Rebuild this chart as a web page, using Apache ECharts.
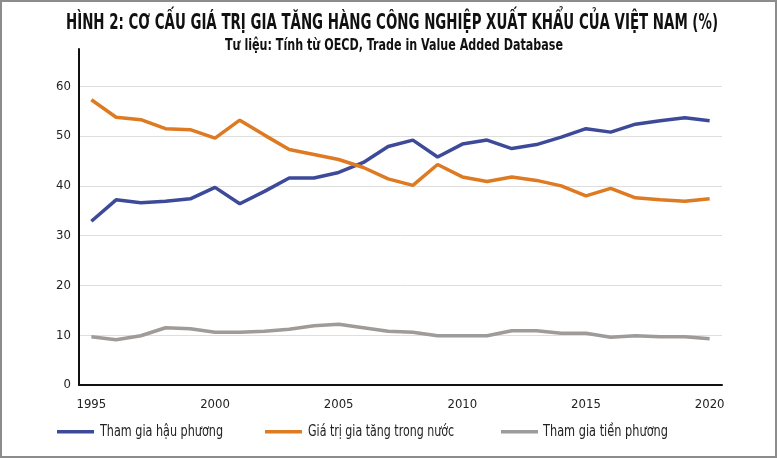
<!DOCTYPE html>
<html>
<head>
<meta charset="utf-8">
<script src="https://cdn.jsdelivr.net/npm/echarts@6/dist/echarts.min.js"></script>
<style>
  html, body { margin: 0; padding: 0; background: #fff; }
  #frame { position: absolute; left: 0; top: 0; width: 773px; height: 454px; border: 2px solid #8c8c8c; }
  #chart { position: absolute; left: -2px; top: -2px; width: 777px; height: 458px; }
</style>
</head>
<body>
<div id="frame"><div id="chart"></div></div>
<script>
var years = ['1995','1996','1997','1998','1999','2000','2001','2002','2003','2004','2005','2006','2007',
             '2008','2009','2010','2011','2012','2013','2014','2015','2016','2017','2018','2019','2020'];
// Tham gia hậu phương
var backward = [32.9, 37.2, 36.6, 36.9, 37.4, 39.7, 36.4, 38.9, 41.6, 41.6, 42.7, 44.7, 47.9,
                49.2, 45.8, 48.4, 49.2, 47.5, 48.3, 49.8, 51.5, 50.8, 52.4, 53.1, 53.7, 53.1];
// Giá trị gia tăng trong nước
var domestic = [57.3, 53.8, 53.3, 51.5, 51.3, 49.6, 53.2, 50.2, 47.3, 46.3, 45.3, 43.7, 41.4,
                40.1, 44.3, 41.8, 40.9, 41.8, 41.1, 40.0, 38.0, 39.5, 37.6, 37.2, 36.9, 37.4];
// Tham gia tiền phương
var forward = [9.7, 9.1, 9.9, 11.5, 11.3, 10.6, 10.6, 10.8, 11.2, 11.9, 12.2, 11.5, 10.8,
               10.6, 9.9, 9.9, 9.9, 10.9, 10.9, 10.4, 10.4, 9.6, 9.9, 9.7, 9.7, 9.3];

var names = ['Tham gia hậu phương', 'Giá trị gia tăng trong nước', 'Tham gia tiền phương'];
var colors = ['#3d4a99', '#de7a22', '#9e9b98'];
var titleText = 'HÌNH 2: CƠ CẤU GIÁ TRỊ GIA TĂNG HÀNG CÔNG NGHIỆP XUẤT KHẨU CỦA VIỆT NAM (%)';
var subText = 'Tư liệu: Tính từ OECD, Trade in Value Added Database';

var fontName = '"DejaVu Sans Condensed", "DejaVu Sans", sans-serif';

// squeeze text horizontally so the condensed look of the original fits
var ctx = document.createElement('canvas').getContext('2d');
function squeeze(str, font, target) {
  ctx.font = font;
  return target / ctx.measureText(str).width;
}

function label(str, x, y, size, weight, target, align) {
  var font = weight + ' ' + size + 'px ' + fontName;
  var s = squeeze(str, font, target);
  return {
    type: 'text', x: x, y: y, scaleX: s, scaleY: 1,
    style: { text: str, font: font, fill: '#111', align: align || 'left', verticalAlign: 'middle' }
  };
}

var graphics = [
  label(titleText, 392, 24, 20.5, 'bold', 652, 'center'),
  label(subText, 394, 46.5, 15, 'bold', 338, 'center')
];
// legend row
var legendItems = [
  { line: 57, text: 100, w: 123 },
  { line: 265, text: 308, w: 146 },
  { line: 501, text: 543, w: 125 }
];
legendItems.forEach(function (it, i) {
  graphics.push({
    type: 'rect', shape: { x: it.line, y: 430, width: 37, height: 3.5 },
    style: { fill: colors[i] }
  });
  var t = label(names[i], it.text, 432, 15, 'normal', it.w, 'left');
  t.style.fill = '#222';
  graphics.push(t);
});

var chart = echarts.init(document.getElementById('chart'));

function line(i, data) {
  return {
    name: names[i],
    type: 'line',
    data: data,
    symbol: 'none',
    lineStyle: { color: colors[i], width: 3.5 },
    itemStyle: { color: colors[i] }
  };
}

chart.setOption({
  animation: false,
  backgroundColor: 'transparent',
  graphic: graphics,
  grid: { left: 79, right: 55, top: 49, bottom: 73 },
  xAxis: {
    type: 'category',
    data: years,
    boundaryGap: true,
    axisLine: { lineStyle: { color: '#111', width: 2 } },
    axisTick: { show: false },
    axisLabel: { interval: 4, margin: 13, fontFamily: fontName, fontSize: 13, color: '#222' }
  },
  yAxis: {
    type: 'value',
    min: 0, max: 67.5, interval: 10,
    axisLine: { show: true, lineStyle: { color: '#111', width: 2 } },
    axisTick: { show: false },
    axisLabel: { showMaxLabel: false, margin: 8, fontFamily: fontName, fontSize: 13, color: '#222' },
    splitLine: { show: true, showMaxLine: false, lineStyle: { color: '#dedede', width: 1 } }
  },
  series: [
    line(0, backward),
    line(1, domestic),
    line(2, forward)
  ]
});
</script>
</body>
</html>
